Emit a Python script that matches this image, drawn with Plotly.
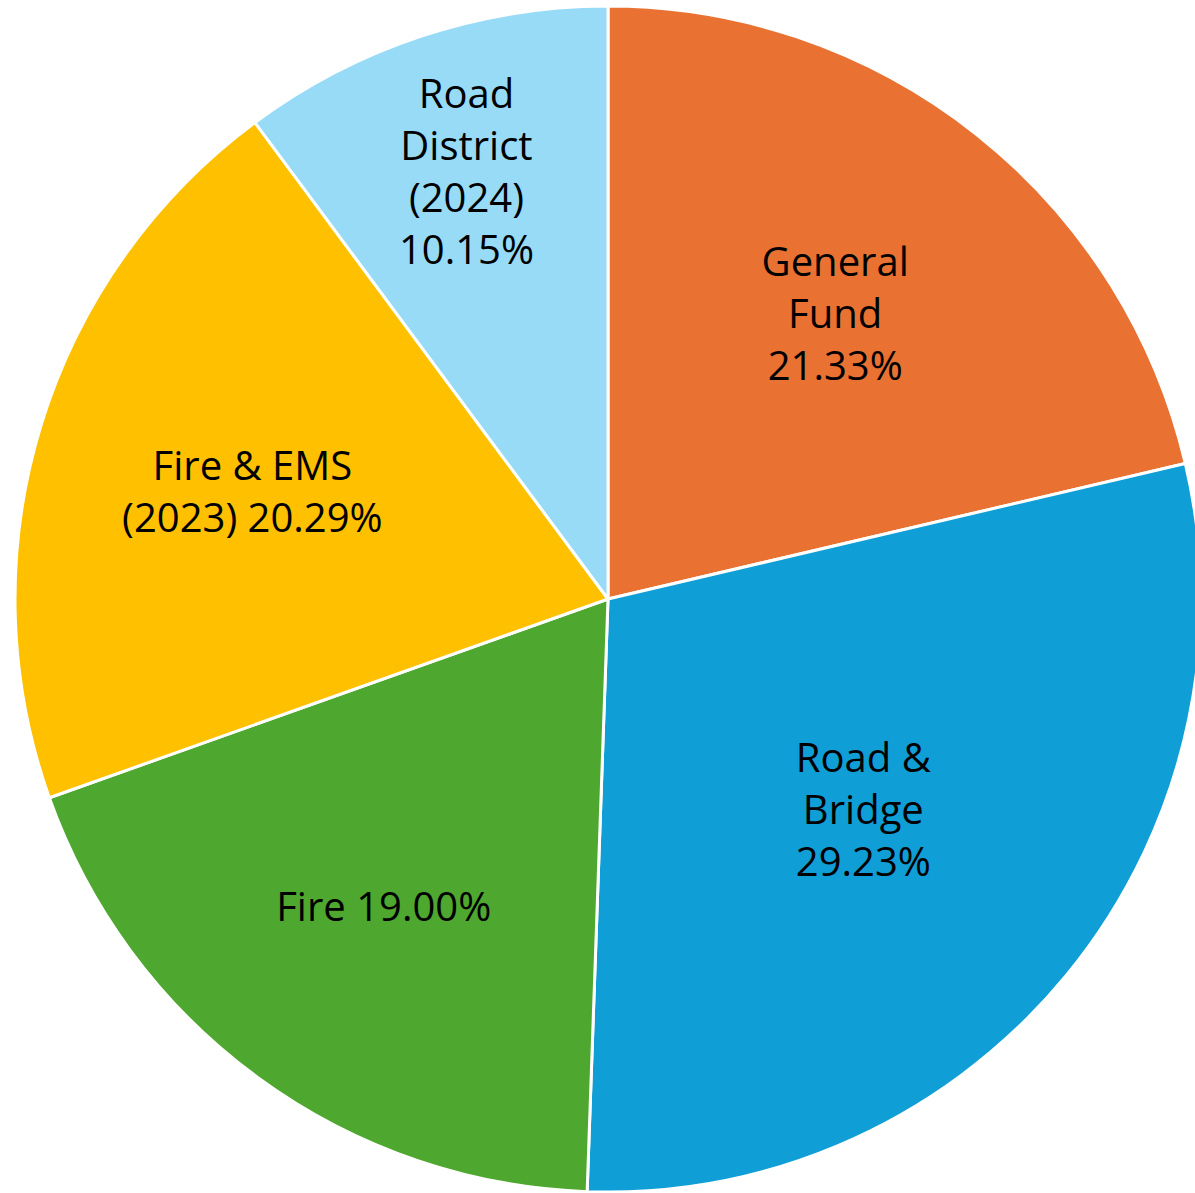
import plotly.graph_objects as go

labels = ["General Fund", "Road & Bridge", "Fire", "Fire & EMS (2023)", "Road District (2024)"]
values = [21.33, 29.23, 19.00, 20.29, 10.15]
text_labels = ["General<br>Fund<br>21.33%", "Road &<br>Bridge<br>29.23%", "Fire 19.00%",
               "Fire & EMS<br>(2023) 20.29%", "Road<br>District<br>(2024)<br>10.15%"]
colors = ["#E97132", "#0F9ED5", "#4EA72E", "#FFC000", "#97DBF7"]

W, H = 1210, 1193
fig = go.Figure(go.Pie(
    labels=labels, values=values, text=text_labels,
    textinfo="text", textposition="inside", insidetextorientation="horizontal",
    sort=False, direction="clockwise", rotation=0,
    marker=dict(colors=colors, line=dict(color="white", width=3)),
    textfont=dict(family="Open Sans, Roboto, sans-serif", size=40, color="black"),
    domain=dict(x=[15 / W, 1201 / W], y=[1 - 1192 / H, 1 - 6 / H]),
    showlegend=False, hoverinfo="label+percent",
))
fig.update_layout(width=W, height=H, margin=dict(l=0, r=0, t=0, b=0),
                  paper_bgcolor="white", uniformtext=dict(minsize=40, mode="show"))
fig.write_html("out.html", config={"displayModeBar": False},
               post_script="document.body.style.margin='0';document.body.style.overflow='hidden';")
